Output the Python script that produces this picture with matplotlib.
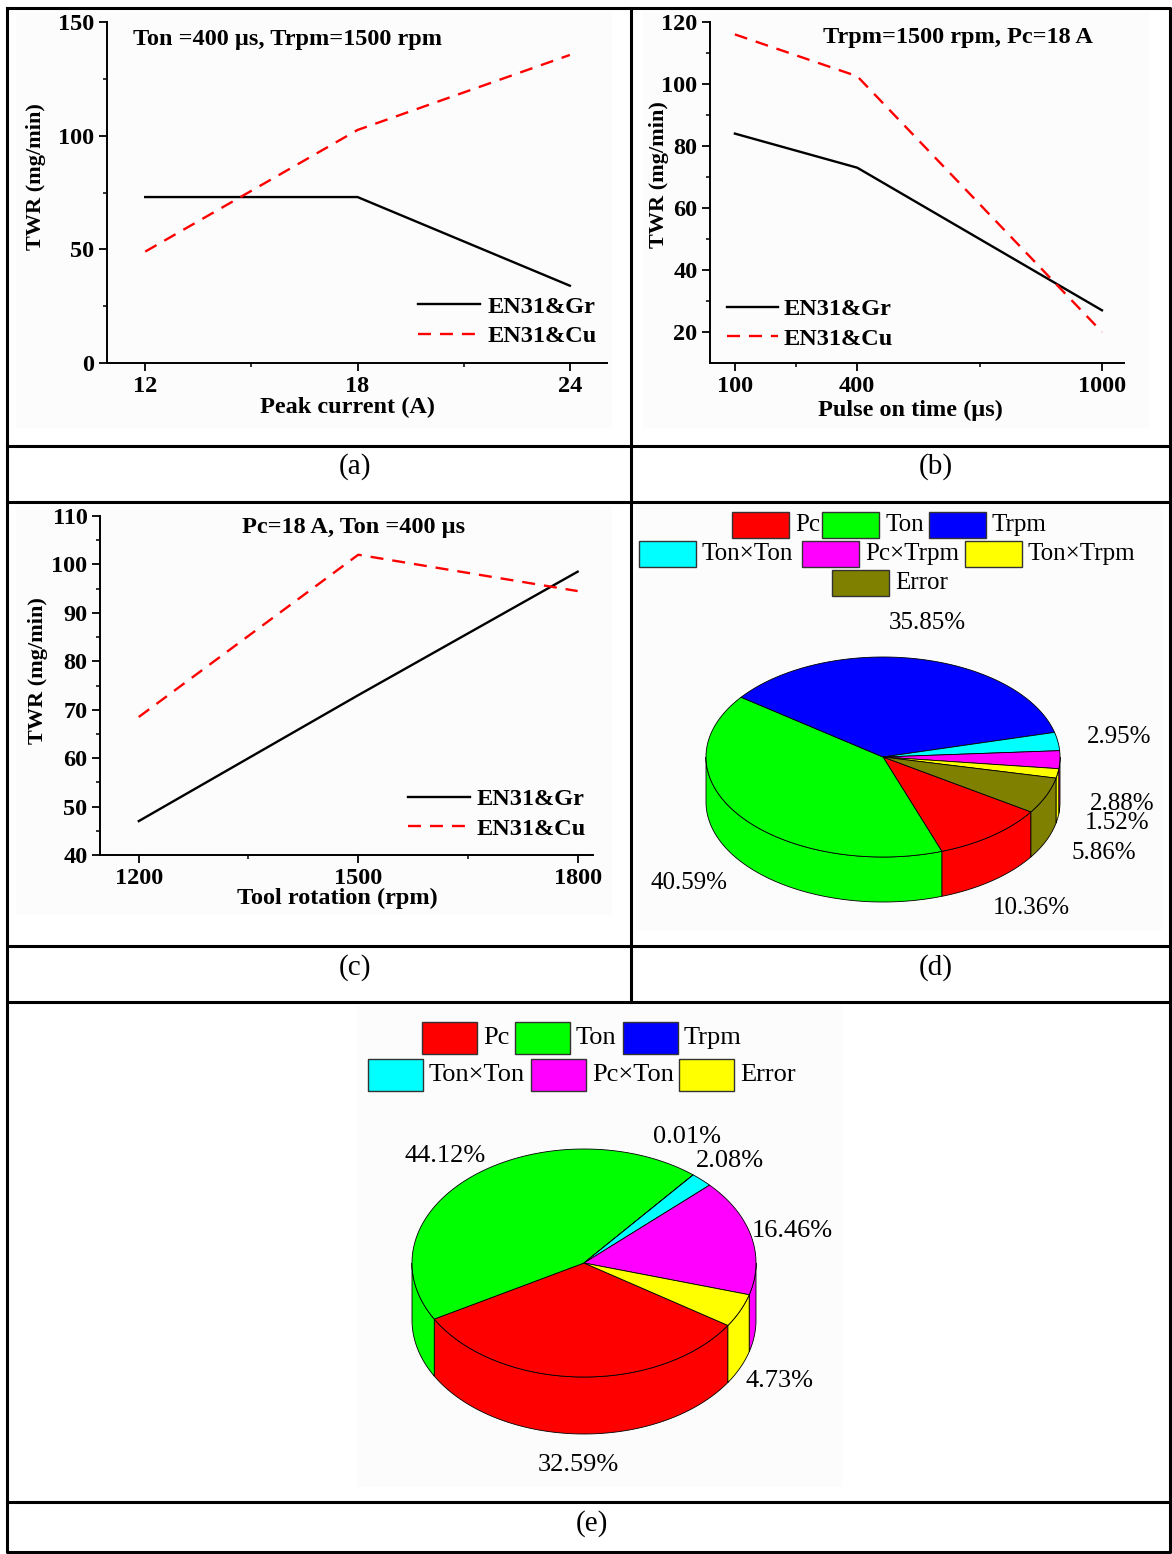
import numpy as np
import matplotlib
matplotlib.use("Agg")
import matplotlib.pyplot as plt
from matplotlib.patches import Polygon, Rectangle
from matplotlib.lines import Line2D

plt.rcParams['font.family'] = ['Liberation Serif', 'DejaVu Serif']

# ---------------- data ----------------
a_x = [12, 18, 24]
a_gr = [73, 73, 34]
a_cu = [49, 102.5, 135.5]

b_x = [100, 400, 1000]
b_gr = [84, 73, 27]
b_cu = [116, 102.5, 20]

c_x = [1200, 1500, 1800]
c_gr = [47, 73, 98.5]
c_cu = [68.5, 102, 94.5]

series_names = ['EN31&Gr', 'EN31&Cu']

d_labels = ['Pc', 'Ton', 'Trpm', 'Ton×Ton', 'Pc×Trpm', 'Ton×Trpm', 'Error']
d_values = [10.36, 40.59, 35.85, 2.95, 2.88, 1.52, 5.86]
d_colors = ['#FF0000', '#00FF00', '#0000FF', '#00FFFF', '#FF00FF', '#FFFF00', '#808000']

e_labels = ['Pc', 'Ton', 'Trpm', 'Ton×Ton', 'Pc×Ton', 'Error']
e_values = [32.59, 44.12, 0.01, 2.08, 16.46, 4.73]
e_colors = ['#FF0000', '#00FF00', '#0000FF', '#00FFFF', '#FF00FF', '#FFFF00']

# ---------------- figure ----------------
W, H = 1172, 1554
fig = plt.figure(figsize=(W / 100, H / 100), dpi=100)
fig.patch.set_facecolor('white')

ov = fig.add_axes([0, 0, 1, 1], zorder=0)
ov.set_xlim(0, W)
ov.set_ylim(H, 0)
ov.axis('off')

# faint panel image backgrounds
for (x0, y0, x1, y1) in [(16, 12, 612, 428), (643, 12, 1150, 428),
                         (16, 506, 612, 915), (636, 505, 1162, 930),
                         (357, 1005, 842, 1487)]:
    ov.add_patch(Rectangle((x0, y0), x1 - x0, y1 - y0, fc='#fcfcfc', ec='none', zorder=0))

# table grid
GL = dict(color='black', lw=2.2, solid_capstyle='projecting', zorder=5)
ov.add_line(Line2D([7, 1170, 1170, 7, 7], [8, 8, 1552, 1552, 8], **GL))
ov.add_line(Line2D([631, 631], [8, 1002], **GL))
for yy in [446, 502, 946, 1002, 1502]:
    ov.add_line(Line2D([7, 1170], [yy, yy], **GL))

# captions
for txt, (cx, cy) in zip(['(a)', '(b)', '(c)', '(d)', '(e)'],
                         [(355, 467), (936, 467), (355, 968), (936, 968), (592, 1524)]):
    ov.text(cx, cy, txt, fontsize=21, ha='center', va='center')


def px_axes(x0, y0, x1, y1):
    return fig.add_axes([x0 / W, 1 - y1 / H, (x1 - x0) / W, (y1 - y0) / H], zorder=2)


FS = 17.5


def line_panel(box, x, gr, cu, xlim, ylim, xmaj, xmin, ymaj, ymin,
               xlabel, xlab_pos, ylab_pos, note, note_pos, note_ha,
               leg_pos, handlelen, textpad):
    x0, y0, x1, y1 = box
    ax = px_axes(*box)
    ax.patch.set_alpha(0)
    ax.plot(x, gr, color='black', lw=1.7, label=series_names[0])
    ax.plot(x, cu, color='#FF0000', lw=1.7, ls=(0, (5.5, 3.8)), label=series_names[1])
    ax.set_xlim(*xlim)
    ax.set_ylim(*ylim)
    ax.set_xticks(xmaj)
    ax.set_xticks(xmin, minor=True)
    ax.set_yticks(ymaj)
    ax.set_yticks(ymin, minor=True)
    for s in ['top', 'right']:
        ax.spines[s].set_visible(False)
    for s in ['left', 'bottom']:
        ax.spines[s].set_linewidth(1.4)
    ax.tick_params(which='major', direction='out', length=5.5, width=1.3,
                   labelsize=FS, pad=3.5)
    ax.tick_params(which='minor', direction='out', length=3, width=1.1)
    for lab in ax.get_xticklabels() + ax.get_yticklabels():
        lab.set_fontweight('bold')
    ax.set_xlabel(xlabel, fontsize=FS, fontweight='bold', va='center')
    ax.xaxis.set_label_coords((xlab_pos[0] - x0) / (x1 - x0), (y1 - xlab_pos[1]) / (y1 - y0))
    ax.set_ylabel('TWR (mg/min)', fontsize=16, fontweight='bold', va='center')
    ax.yaxis.set_label_coords((ylab_pos[0] - x0) / (x1 - x0), (y1 - ylab_pos[1]) / (y1 - y0))
    ax.text((note_pos[0] - x0) / (x1 - x0), (y1 - note_pos[1]) / (y1 - y0), note,
            transform=ax.transAxes, fontsize=FS, fontweight='bold',
            ha=note_ha, va='center')
    ax.legend(loc='center left',
              bbox_to_anchor=((leg_pos[0] - x0) / (x1 - x0), (y1 - leg_pos[1]) / (y1 - y0)),
              frameon=False, borderpad=0, borderaxespad=0,
              handlelength=handlelen, handletextpad=textpad, labelspacing=0.3,
              prop={'size': FS, 'weight': 'bold'})
    return ax


line_panel((107, 22, 607, 363), a_x, a_gr, a_cu, (10.92, 25.05), (0, 150),
           [12, 18, 24], [15, 21], [0, 50, 100, 150], [25, 75, 125],
           'Peak current (A)', (347, 407), (36, 177),
           'Ton =400 µs, Trpm=1500 rpm', (133, 39), 'left',
           (418, 321.5), 2.55, 0.33)

line_panel((710, 22, 1124, 363), b_x, b_gr, b_cu, (39, 1054), (10, 120),
           [100, 400, 1000], [250, 700], [20, 40, 60, 80, 100, 120], [30, 50, 70, 90, 110],
           'Pulse on time (µs)', (910, 410), (659, 175),
           'Trpm=1500 rpm, Pc=18 A', (958, 37), 'center',
           (727, 324), 2.1, 0.22)

line_panel((100, 516, 593, 855), c_x, c_gr, c_cu, (1147, 1821), (40, 110),
           [1200, 1500, 1800], [1350, 1650], list(range(40, 111, 10)), list(range(45, 106, 10)),
           'Tool rotation (rpm)', (337, 898), (38, 671),
           'Pc=18 A, Ton =400 µs', (354, 528), 'center',
           (408, 814), 2.55, 0.25)


# ---------------- 3D pies ----------------
def pie3d(ax, values, colors, start, cx, cy, rx, ry, depth):
    vals = np.asarray(values, float)
    frac = vals / vals.sum()
    bounds = start - 360 * np.concatenate([[0], np.cumsum(frac)])
    # side faces (front half only)
    for i in range(len(vals)):
        a0, a1 = bounds[i + 1], bounds[i]
        for k in range(-3, 3):
            lo = max(a0, 180 + 360 * k)
            hi = min(a1, 360 + 360 * k)
            if hi > lo:
                t = np.radians(np.linspace(lo, hi, 80))
                xs = cx + rx * np.cos(t)
                ys = cy - ry * np.sin(t)
                poly = np.column_stack([np.r_[xs, xs[::-1]], np.r_[ys, ys[::-1] + depth]])
                ax.add_patch(Polygon(poly, closed=True, fc=colors[i], ec='black',
                                     lw=0.6, zorder=2))
    # top faces
    for i in range(len(vals)):
        a0, a1 = bounds[i + 1], bounds[i]
        t = np.radians(np.linspace(a0, a1, max(int(a1 - a0) * 2 + 2, 3)))
        xs = np.r_[cx, cx + rx * np.cos(t)]
        ys = np.r_[cy, cy - ry * np.sin(t)]
        ax.add_patch(Polygon(np.column_stack([xs, ys]), closed=True, fc=colors[i],
                             ec='black', lw=0.6, zorder=3))


def pie_legend(ax, labels, colors, slots, w, h, fs):
    for lab, col, (x, yc) in zip(labels, colors, slots):
        ax.add_patch(Rectangle((x, yc - h / 2), w, h, fc=col, ec='#333333', lw=1, zorder=4))
        ax.text(x + w + 6, yc, lab, fontsize=fs, ha='left', va='center', zorder=4)


# panel (d)
pie3d(ov, d_values, d_colors, -33.3, 883, 757, 177, 100, 45)
pie_legend(ov, d_labels, d_colors,
           [(732, 525), (822, 525), (929, 525), (639, 554), (802, 554), (965, 554), (832, 583)],
           57, 26, 18)
d_label_pos = [(1031, 908), (689, 883), (927, 623), (1119, 737), (1122, 804), (1117, 823), (1104, 853)]
for v, (x, y) in zip(d_values, d_label_pos):
    ov.text(x, y, f'{v:.2f}%', fontsize=18, ha='center', va='center', zorder=4)

# panel (e)
pie3d(ov, e_values, e_colors, -33.2, 584, 1263, 172, 114, 57)
pie_legend(ov, e_labels, e_colors,
           [(422, 1038), (515, 1038), (623, 1038), (368, 1075), (531, 1075), (679, 1075)],
           55, 32, 19)
e_label_pos = [(578, 1465), (445, 1156), (687, 1137), (730, 1161), (792, 1231), (779, 1381)]
for v, (x, y) in zip(e_values, e_label_pos):
    ov.text(x, y, f'{v:.2f}%', fontsize=19, ha='center', va='center', zorder=4)

fig.savefig('out.png', dpi=100)
